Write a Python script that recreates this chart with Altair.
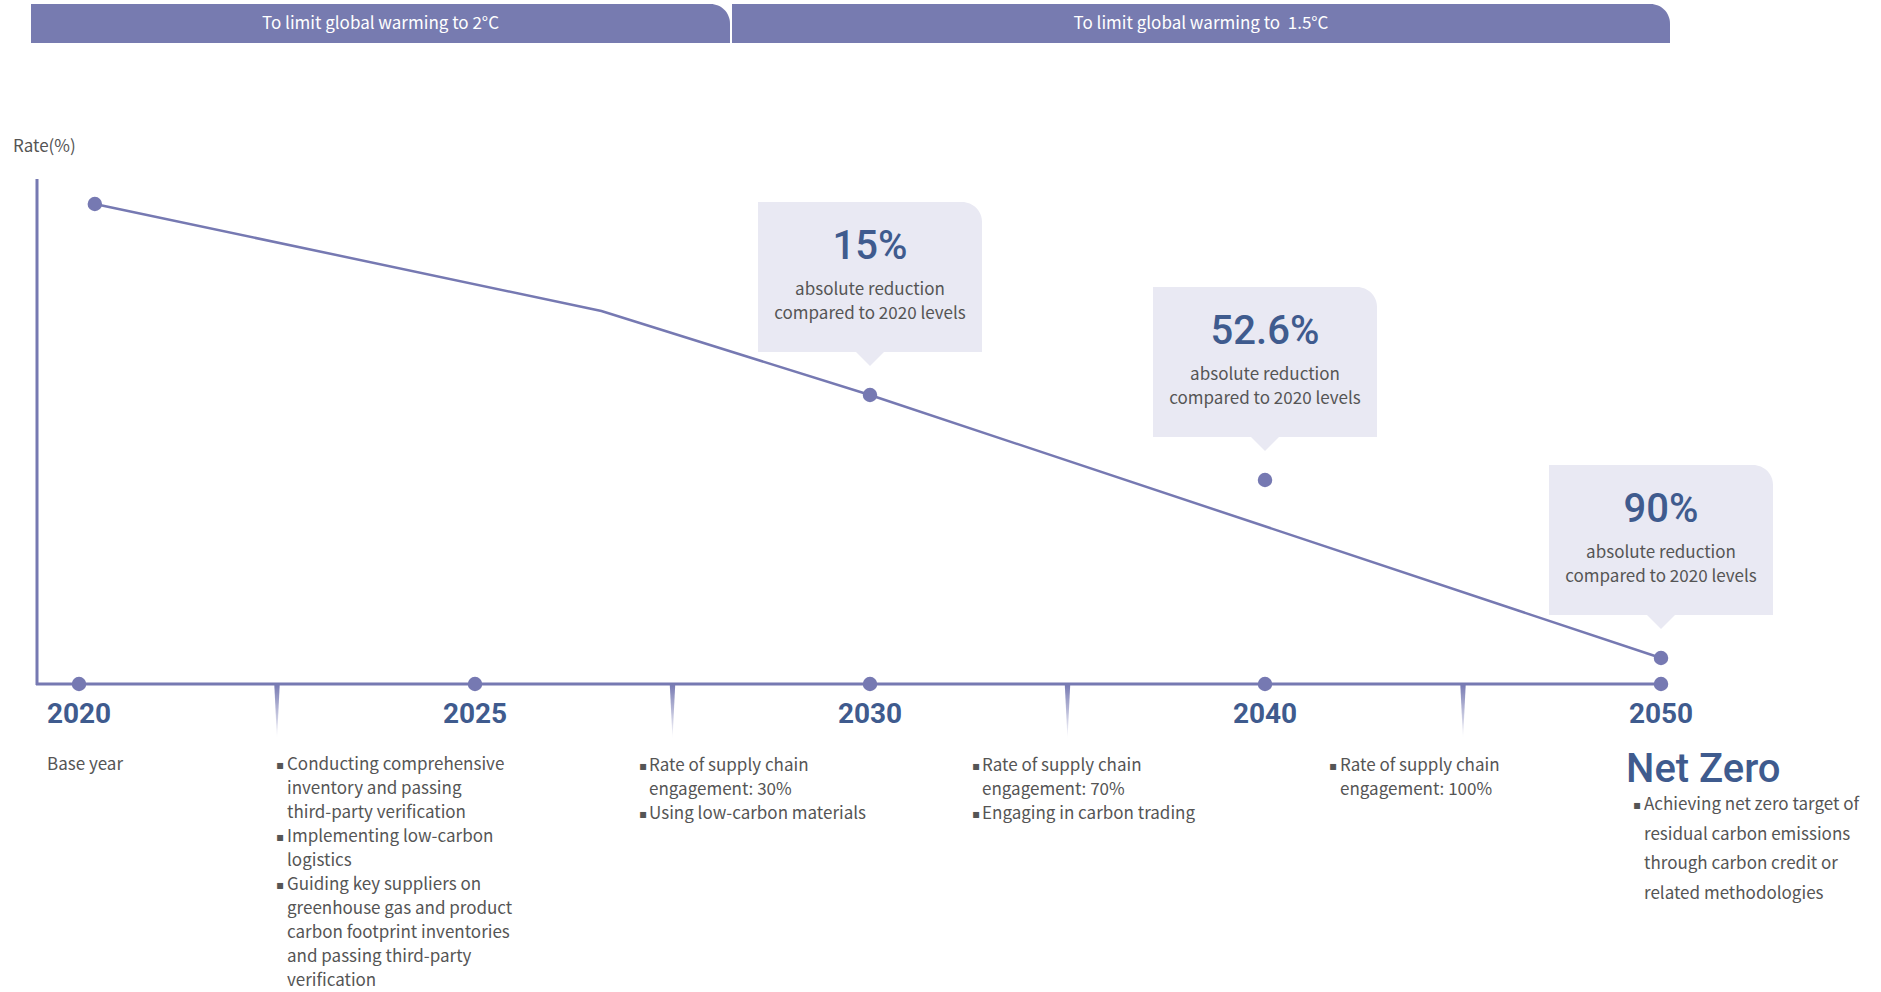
import altair as alt
import pandas as pd

# ---- timeline milestones ----
years = [2020, 2025, 2030, 2040, 2050]
year_labels = ["2020", "2025", "2030", "2040", "2050"]

# ---- absolute reduction targets vs. 2020 (%) ----
target_years = [2030, 2040, 2050]
reductions = [15, 52.6, 90]
callout_caption = ["absolute reduction", "compared to 2020 levels"]

# ---- emission-rate path (% of 2020 level) ----
base_year = 2020.2
base_level = 100
path_years = [base_year, 2026.6, 2030, 2050]
path_levels = [base_level, 91.6, 100 - reductions[0], 100 - reductions[2]]

banner_labels = ["To limit global warming to 2°C", "To limit global warming to\u00a0 1.5°C"]
axis_title = "Rate(%)"

notes_2020 = ["Base year"]
notes_2025 = [
    ["Conducting comprehensive", "\u2009inventory and passing", "third-party verification"],
    ["Implementing low-carbon", "logistics"],
    ["Guiding key suppliers on", "greenhouse gas and product",
     "carbon footprint inventories", "and passing third-party", "verification"],
]
notes_2030 = [["Rate of supply chain", "engagement: 30%"], ["Using low-carbon materials"]]
notes_2040 = [["Rate of supply chain", "engagement: 70%"], ["Engaging in carbon trading"]]
notes_2050 = [["Rate of supply chain", "engagement: 100%"]]
net_zero_title = "Net Zero"
net_zero_notes = [["Achieving net zero target of", "residual carbon emissions",
                   "through carbon credit or", "related methodologies"]]

# ---- styling ----
BANNER = "#777bb0"
LINE = "#7679b2"
CALLOUT_BG = "#e9e9f3"
NUM = "#3f5b8e"
TEXT = "#555555"
BODY_FONT = "Noto Sans CJK TC"
NUM_FONT = "Roboto"
W, H = 1881, 992

# evenly spaced milestones (piecewise scales)
X_SCALE = alt.Scale(domain=years, range=[79, 475, 870, 1265, 1661], nice=False, zero=False)
Y_SCALE = alt.Scale(domain=[0, 10, 47.4, 85, 100], range=[684, 658, 480, 395, 204],
                    nice=False, zero=False)


def X(field):
    return alt.X(f"{field}:Q", scale=X_SCALE, axis=None)


def Y(field):
    return alt.Y(f"{field}:Q", scale=Y_SCALE, axis=None)


one = pd.DataFrame({"k": [0]})

callouts = pd.DataFrame({
    "year": target_years,
    "level": [100 - r for r in reductions],
    "label": [f"{r:g}%" for r in reductions],
})
dots = pd.DataFrame({
    "year": [base_year] + target_years,
    "level": [base_level] + [100 - r for r in reductions],
})
axis_dots = pd.DataFrame({"year": years, "level": 0, "label": year_labels})
dividers = pd.DataFrame({
    "year": [(a + b) / 2 for a, b in zip(years[:-1], years[1:])],
    "level": 0,
})
path = pd.DataFrame({"year": path_years, "level": path_levels, "order": range(len(path_years))})

layers = []

# header banners
BANNER_SPANS = [(31, 730), (732, 1670)]
for label, (x0, x1) in zip(banner_labels, BANNER_SPANS):
    layers.append(
        alt.Chart(one).mark_rect(color=BANNER, cornerRadiusTopRight=30).encode(
            x=alt.value(x0), x2=alt.value(x1), y=alt.value(4), y2=alt.value(43))
    )
    layers.append(
        alt.Chart(one).mark_text(font=BODY_FONT, fontSize=17, color="white",
                                 align="center", baseline="alphabetic").encode(
            x=alt.value((x0 + x1) / 2), y=alt.value(29), text=alt.value(label))
    )

# axis title
layers.append(
    alt.Chart(one).mark_text(font=BODY_FONT, fontSize=17, color=TEXT, align="left",
                             baseline="alphabetic").encode(
        x=alt.value(13), y=alt.value(152), text=alt.value(axis_title))
)

# callout boxes with pointers
layers.append(
    alt.Chart(callouts).mark_rect(color=CALLOUT_BG, cornerRadiusTopRight=20,
                                  xOffset=-112, x2Offset=112, yOffset=-193, y2Offset=-43).encode(
        x=X("year"), x2="year:Q", y=Y("level"), y2="level:Q")
)
layers.append(
    alt.Chart(callouts).mark_point(shape="M-1.2,-1.2L1.2,-1.2L0,0Z", size=900, filled=True,
                                   color=CALLOUT_BG, opacity=1, strokeWidth=0, yOffset=-29).encode(
        x=X("year"), y=Y("level"))
)

# frame lines
layers.append(
    alt.Chart(one).mark_rule(color=LINE, strokeWidth=3).encode(
        x=alt.value(37), y=alt.value(179), y2=alt.value(685))
)
layers.append(
    alt.Chart(one).mark_rule(color=LINE, strokeWidth=3).encode(
        x=alt.value(36), x2=alt.value(1661), y=alt.value(684))
)

# tapered dividers between milestones
layers.append(
    alt.Chart(dividers).mark_point(
        shape="M-0.05,0L0.05,0L0,1Z", size=12100, filled=True, opacity=1, strokeWidth=0,
        fill=alt.Gradient(gradient="linear", x1=0, x2=0, y1=0, y2=1,
                          stops=[alt.GradientStop(color=LINE, offset=0),
                                 alt.GradientStop(color="#ffffff", offset=1)])).encode(
        x=X("year"), y=Y("level"))
)

# emission path and dots
layers.append(
    alt.Chart(path).mark_line(color=LINE, strokeWidth=2.5).encode(
        x=X("year"), y=Y("level"), order="order:Q")
)
layers.append(
    alt.Chart(dots).mark_circle(size=210, color=LINE, opacity=1).encode(x=X("year"), y=Y("level"))
)
layers.append(
    alt.Chart(axis_dots).mark_circle(size=210, color=LINE, opacity=1).encode(x=X("year"), y=Y("level"))
)

# year labels
layers.append(
    alt.Chart(axis_dots).mark_text(font=NUM_FONT, fontWeight="bold", fontSize=28, color=NUM,
                                   baseline="alphabetic", dy=39).encode(
        x=X("year"), y=Y("level"), text="label:N")
)

# callout texts
layers.append(
    alt.Chart(callouts).mark_text(font=NUM_FONT, fontWeight=500, fontSize=40, color=NUM,
                                  baseline="alphabetic", dy=-136).encode(
        x=X("year"), y=Y("level"), text="label:N")
)
layers.append(
    alt.Chart(callouts).mark_text(font=BODY_FONT, fontSize=17, color=TEXT, baseline="alphabetic",
                                  lineHeight=24, dy=-100).encode(
        x=X("year"), y=Y("level"), text=alt.value(callout_caption))
)


def note_block(items, x_bullet, x_text, y0, lh, bullets=True):
    lines = [ln for item in items for ln in item]
    out = [alt.Chart(one).mark_text(font=BODY_FONT, fontSize=17, color=TEXT, align="left",
                                    baseline="alphabetic", lineHeight=lh).encode(
        x=alt.value(x_text), y=alt.value(y0), text=alt.value(lines))]
    if bullets:
        row = 0
        for item in items:
            out.append(alt.Chart(one).mark_text(font="DejaVu Sans", fontSize=12, color=TEXT,
                                                align="left", baseline="alphabetic").encode(
                x=alt.value(x_bullet), y=alt.value(y0 - 1 + row * lh), text=alt.value("\u25aa")))
            row += len(item)
    return out


layers += note_block([notes_2020], 47, 47, 770, 24, bullets=False)
layers += note_block(notes_2025, 276, 287, 770, 24)
layers += note_block(notes_2030, 639, 649, 771, 24)
layers += note_block(notes_2040, 972, 982, 771, 24)
layers += note_block(notes_2050, 1329, 1340, 771, 24)

layers.append(
    alt.Chart(one).mark_text(font=NUM_FONT, fontWeight=500, fontSize=40, color=NUM, align="left",
                             baseline="alphabetic").encode(
        x=alt.value(1626), y=alt.value(782), text=alt.value(net_zero_title))
)
layers += note_block(net_zero_notes, 1633, 1644, 810, 29.5)

chart = alt.layer(*layers).properties(
    width=W, height=H, padding=0, autosize=alt.AutoSizeParams(type="none"),
    background="white",
).configure_view(stroke=None)

chart.save("out.html", embed_options={"renderer": "svg", "actions": False})
